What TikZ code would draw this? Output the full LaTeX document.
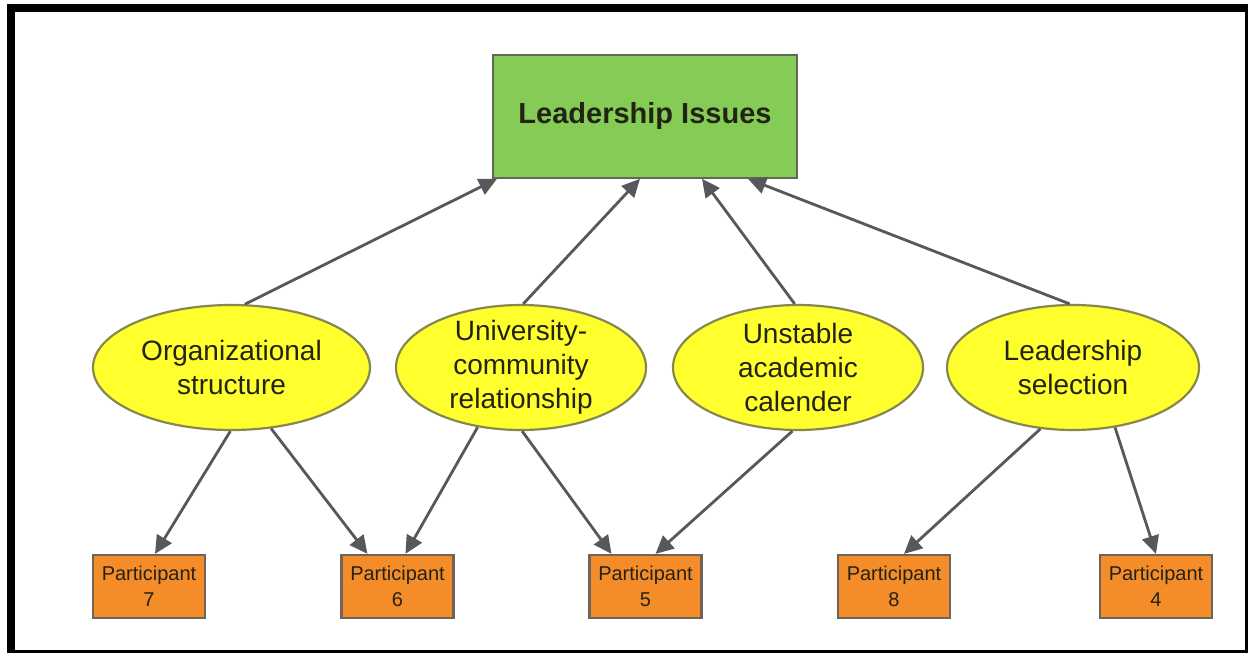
\documentclass[tikz,border=0pt]{standalone}
\usepackage{fontspec}
\setmainfont{Liberation Sans}
\usetikzlibrary{shapes.geometric, arrows.meta}

\definecolor{issuegreen}{RGB}{133,204,87}
\definecolor{issueline}{RGB}{95,105,85}
\definecolor{themeyellow}{RGB}{255,255,45}
\definecolor{themeline}{RGB}{135,135,80}
\definecolor{partorange}{RGB}{245,140,42}
\definecolor{partline}{RGB}{110,100,90}
\definecolor{linkgray}{RGB}{88,88,92}
\definecolor{textdark}{RGB}{35,35,20}

\begin{document}
\begin{tikzpicture}[x=0.5pt, y=-0.5pt]
\tikzset{ >={Triangle[length=9pt, width=8.5pt]},
  issue/.style={draw=issueline, fill=issuegreen, line width=0.8pt, text=textdark,
    minimum width=152pt, minimum height=61.5pt, inner sep=0pt,
    font=\bfseries\fontsize{14.5}{17}\selectfont},
  theme/.style={ellipse, draw=themeline, fill=themeyellow, line width=1.1pt, text=textdark,
    minimum height=62.5pt, inner xsep=0pt, inner ysep=-10pt, align=center,
    font=\fontsize{14}{17}\selectfont},
  part/.style={draw=partline, fill=partorange, line width=1.1pt, text=textdark,
    minimum width=56pt, minimum height=31.5pt, inner sep=0pt, align=center,
    font=\fontsize{10}{13}\selectfont},
  link/.style={->, draw=linkgray, line width=1.4pt},
}

\useasboundingbox (0,0) rectangle (1248,653);

% frame
\fill [black] (7,4) rectangle (1248,653);
\fill [white] (15,12) rectangle (1245,650);

\node [issue] (L) at (645,116.5) {Leadership Issues};

\node [theme, minimum width=138.5pt] (O) at ( 231.5,367.5) {Organizational\\structure};
\node [theme, minimum width=125pt]   (U) at ( 521.0,367.5) {University-\\community\\relationship};
\node [theme, minimum width=125pt]   (A) at ( 798.0,367.5) {Unstable\\academic\\calender};
\node [theme, minimum width=126pt]   (S) at (1073.0,367.5) {Leadership\\selection};

\node [part] (P7) at ( 149.0,586.5) {Participant\\7};
\node [part] (P6) at ( 397.5,586.5) {Participant\\6};
\node [part] (P5) at ( 645.5,586.5) {Participant\\5};
\node [part] (P8) at ( 894.0,586.5) {Participant\\8};
\node [part] (P4) at (1156.0,586.5) {Participant\\4};

\draw [link] (O.78) -- ([xshift=-74pt]L.south);
\draw [link] (U.88) -- ([xshift=-2.5pt]L.south);
\draw [link] (A.93) -- ([xshift=28.5pt]L.south);
\draw [link] (S.93) -- ([xshift=51.5pt]L.south);

\draw [link] (O.-91)  -- ([xshift=3pt]P7.north);
\draw [link] (O.-57)  -- ([xshift=-15pt]P6.north);
\draw [link] (U.-126) -- ([xshift=4pt]P6.north);
\draw [link] (U.-89)  -- ([xshift=-17pt]P5.north);
\draw [link] (A.-95)  -- ([xshift=5pt]P5.north);
\draw [link] (S.-118) -- ([xshift=5pt]P8.north);
\draw [link] (S.-55)  -- (P4.north);

\end{tikzpicture}
\end{document}
